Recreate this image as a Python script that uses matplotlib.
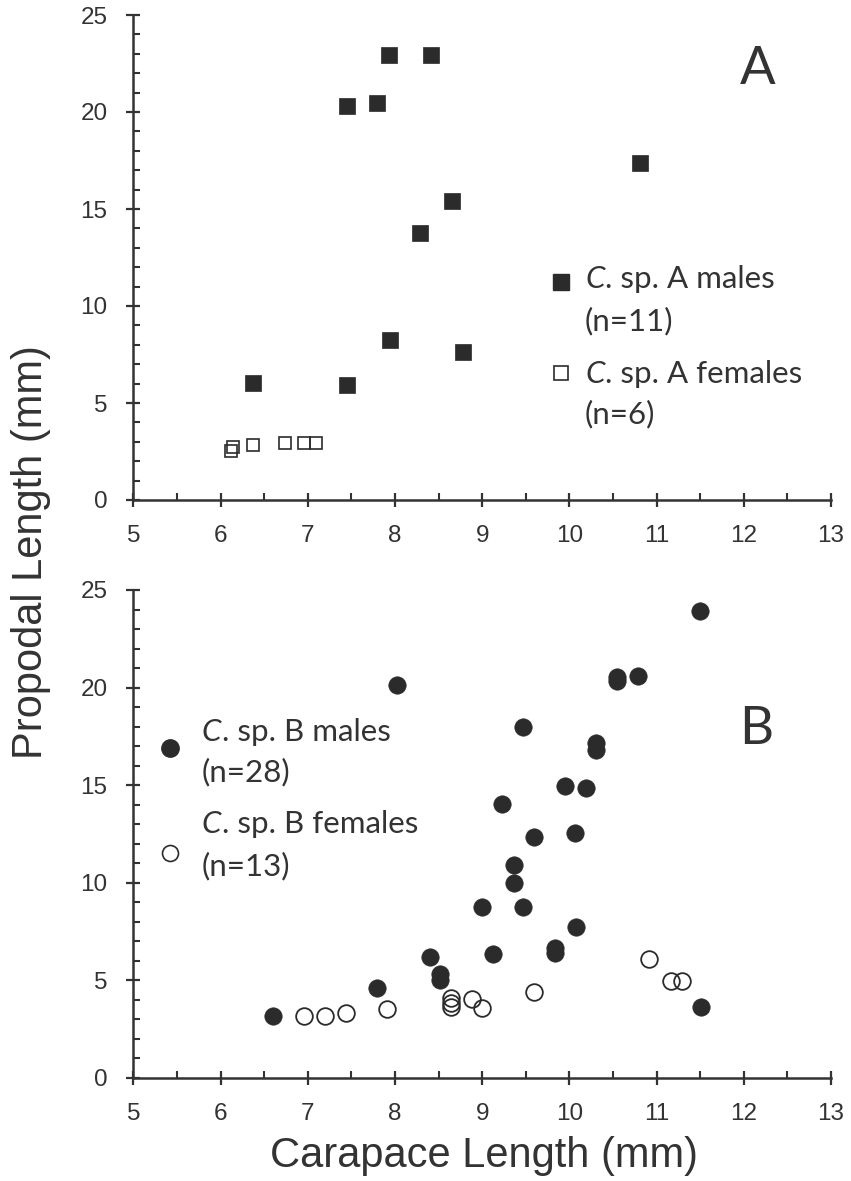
import matplotlib
matplotlib.use("Agg")
import matplotlib.pyplot as plt
from matplotlib.ticker import MultipleLocator

# ---- data ----
a_male_x = [6.37, 7.45, 7.80, 7.93, 8.41, 8.29, 7.94, 7.45, 8.65, 10.81, 8.78]
a_male_y = [6.01, 20.31, 20.45, 22.94, 22.94, 13.75, 8.25, 5.93, 15.41, 17.35, 7.61]
a_fem_x = [6.12, 6.14, 6.37, 6.74, 6.96, 7.10]
a_fem_y = [2.55, 2.75, 2.84, 2.92, 2.92, 2.92]

b_male_x = [6.60, 7.80, 8.02, 8.40, 8.52, 8.52, 9.00, 9.12, 9.23, 9.36, 9.36, 9.47, 9.47, 9.59,
            9.84, 9.84, 9.95, 10.07, 10.08, 10.19, 10.31, 10.31, 10.55, 10.55, 10.79, 11.50, 11.51]
b_male_y = [3.18, 4.59, 20.12, 6.21, 5.33, 5.02, 8.74, 6.34, 14.02, 10.91, 9.97, 18.00, 8.74, 12.33,
            6.64, 6.42, 14.98, 12.57, 7.75, 14.84, 17.18, 16.80, 20.56, 20.35, 20.61, 23.94, 3.65]
b_fem_x = [6.96, 7.20, 7.44, 7.91, 8.64, 8.64, 8.64, 8.88, 9.00, 9.59, 10.91, 11.16, 11.29]
b_fem_y = [3.18, 3.18, 3.31, 3.53, 4.08, 3.86, 3.65, 4.05, 3.57, 4.42, 6.08, 4.99, 4.99]

x_ticks = [5, 6, 7, 8, 9, 10, 11, 12, 13]
y_ticks = [0, 5, 10, 15, 20, 25]

legend_a = ["C. sp. A males", "(n=11)", "C. sp. A females", "(n=6)"]
legend_b = ["C. sp. B males", "(n=28)", "C. sp. B females", "(n=13)"]
panel_labels = ["A", "B"]
xlabel = "Carapace Length (mm)"
ylabel = "Propodal Length (mm)"

# ---- style ----
INK = "#333333"
MARK = "#2b2b2b"
ARIAL = ["Liberation Sans", "DejaVu Sans"]
CALI = ["Lato", "DejaVu Sans"]
LEG_FS = 22.5

W, H = 851, 1181
fig = plt.figure(figsize=(W / 100, H / 100), dpi=100)

def frac_rect(left, top, right, bottom):
    return [left / W, 1 - bottom / H, (right - left) / W, (bottom - top) / H]

axA = fig.add_axes(frac_rect(133.3, 15, 831, 500))
axB = fig.add_axes(frac_rect(133.3, 590, 831, 1078))

for ax in (axA, axB):
    ax.set_xlim(5, 13)
    ax.set_ylim(0, 25)
    for s in ("top", "right"):
        ax.spines[s].set_visible(False)
    for s in ("left", "bottom"):
        ax.spines[s].set_linewidth(1.8)
        ax.spines[s].set_color(INK)
    ax.set_xticks(x_ticks)
    ax.set_yticks(y_ticks)
    ax.xaxis.set_minor_locator(MultipleLocator(0.5))
    ax.yaxis.set_minor_locator(MultipleLocator(1))
    ax.tick_params(which="major", direction="inout", length=10, width=1.6, color=INK,
                   labelsize=17.5, labelcolor=INK)
    ax.tick_params(which="minor", direction="in", length=5, width=1.5, color=INK)
    ax.tick_params(axis="y", which="major", pad=13.5)
    ax.tick_params(axis="x", which="major", pad=13)
    for lab in ax.get_xticklabels() + ax.get_yticklabels():
        lab.set_family(ARIAL)
    ax.patch.set_alpha(0)

# Panel A
axA.plot(a_male_x, a_male_y, ls="none", marker="s", ms=12, mfc=MARK, mec=MARK, mew=0.5)
axA.plot(a_fem_x, a_fem_y, ls="none", marker="s", ms=9.3, mfc="none", mec=MARK, mew=1.2)

# Panel B
axB.plot(b_male_x, b_male_y, ls="none", marker="o", ms=12.5, mfc=MARK, mec=MARK, mew=0.5)
axB.plot(b_fem_x, b_fem_y, ls="none", marker="o", ms=12, mfc="none", mec=MARK, mew=1.3)

fig.canvas.draw()

def legend_text(ax, x, ys, lines, size):
    for y, line in zip(ys, lines):
        if line.startswith("C."):
            t = ax.text(x, y, "C", transform=ax.transAxes, fontsize=size, color=INK,
                        family=CALI, style="italic", va="baseline", ha="left")
            bb = t.get_window_extent(renderer=fig.canvas.get_renderer())
            x2 = ax.transAxes.inverted().transform((bb.x1 + 1, bb.y0))[0]
            ax.text(x2, y, line[1:], transform=ax.transAxes, fontsize=size, color=INK,
                    family=CALI, va="baseline", ha="left")
        else:
            ax.text(x, y, line, transform=ax.transAxes, fontsize=size, color=INK,
                    family=CALI, va="baseline", ha="left")

# legend A
axA.plot([0.6125], [0.450], transform=axA.transAxes, marker="s", ms=11, mfc=MARK, mec=MARK,
         ls="none", clip_on=False)
axA.plot([0.6125], [0.261], transform=axA.transAxes, marker="s", ms=10, mfc="none", mec=MARK,
         mew=1.2, ls="none", clip_on=False)
legend_text(axA, 0.6474, [0.4365, 0.3505, 0.2406, 0.158], legend_a, LEG_FS)

# legend B
axB.plot([0.0526], [0.677], transform=axB.transAxes, marker="o", ms=12.5, mfc=MARK, mec=MARK,
         ls="none", clip_on=False)
axB.plot([0.0526], [0.4605], transform=axB.transAxes, marker="o", ms=11.5, mfc="none", mec=MARK,
         mew=1.2, ls="none", clip_on=False)
legend_text(axB, 0.098, [0.6906, 0.6072, 0.5014, 0.416], legend_b, LEG_FS)

# panel letters
axA.text(0.8947, 0.887, panel_labels[0], transform=axA.transAxes, fontsize=38, color=INK,
         family=CALI, ha="center", va="center")
axB.text(0.8921, 0.7133, panel_labels[1], transform=axB.transAxes, fontsize=38, color=INK,
         family=CALI, ha="center", va="center")

# axis titles
fig.text(484 / W, 1 - 1166.7 / H, xlabel, fontsize=30, color=INK, family=ARIAL,
         ha="center", va="baseline")
fig.text(41.7 / W, 1 - 551.7 / H, ylabel, fontsize=30, color=INK, family=ARIAL,
         rotation=90, rotation_mode="anchor", ha="center", va="baseline")

fig.savefig("out.png", dpi=100, facecolor="white")
